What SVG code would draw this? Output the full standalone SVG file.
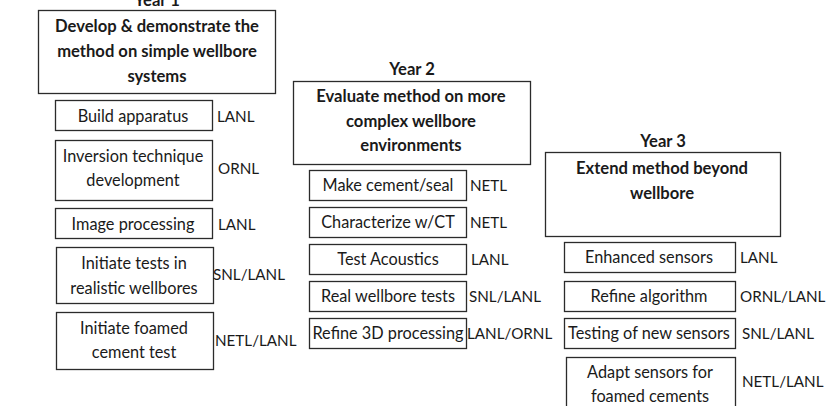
<svg xmlns="http://www.w3.org/2000/svg" width="839" height="406" viewBox="0 0 839 406">
  <style>
    text { font-family: Lato, "Open Sans", "Liberation Sans", sans-serif; font-size: 16.3px; fill: #1a1a1a; }
    .h { font-weight: bold; font-size: 16.6px; }
    .c { text-anchor: middle; }
    .lab { font-size: 15.2px; }
    rect { fill: #ffffff; stroke: #2b2b2b; stroke-width: 1.3; }
  </style>
  <rect x="0" y="0" width="839" height="406" style="stroke:none"/>

  <!-- Year 1 column -->
  <g id="year1">
    <text class="h c" x="157" y="6">Year 1</text>
    <g id="y1-goal">
      <rect x="38.5" y="10.5" width="237" height="83"/>
      <text class="h c" x="157" y="32">Develop &amp; demonstrate the</text>
      <text class="h c" x="157" y="57">method on simple wellbore</text>
      <text class="h c" x="157" y="82">systems</text>
    </g>
    <g id="y1-build">
      <rect x="55.5" y="100.5" width="157" height="30"/>
      <text class="c" x="133" y="122">Build apparatus</text>
      <text class="lab" x="217" y="122">LANL</text>
    </g>
    <g id="y1-inversion">
      <rect x="55.5" y="140.5" width="157" height="60"/>
      <text class="c" x="133" y="162">Inversion technique</text>
      <text class="c" x="133" y="186">development</text>
      <text class="lab" x="218" y="174">ORNL</text>
    </g>
    <g id="y1-image">
      <rect x="55.5" y="208.5" width="157" height="30"/>
      <text class="c" x="133" y="230">Image processing</text>
      <text class="lab" x="218" y="230">LANL</text>
    </g>
    <g id="y1-realistic">
      <rect x="56.5" y="247.5" width="157" height="56"/>
      <text class="c" x="134" y="269">Initiate tests in</text>
      <text class="c" x="134" y="294">realistic wellbores</text>
      <text class="lab" x="213" y="280">SNL/LANL</text>
    </g>
    <g id="y1-foamed">
      <rect x="56.5" y="312.5" width="157" height="57"/>
      <text class="c" x="134" y="334">Initiate foamed</text>
      <text class="c" x="134" y="358">cement test</text>
      <text class="lab" x="215" y="346">NETL/LANL</text>
    </g>
  </g>

  <!-- Year 2 column -->
  <g id="year2">
    <text class="h c" x="412" y="75">Year 2</text>
    <g id="y2-goal">
      <rect x="293.5" y="81.5" width="237" height="83"/>
      <text class="h c" x="411" y="102">Evaluate method on more</text>
      <text class="h c" x="411" y="127">complex wellbore</text>
      <text class="h c" x="411" y="151">environments</text>
    </g>
    <g id="y2-cement">
      <rect x="309.5" y="170.5" width="157" height="30"/>
      <text class="c" x="388" y="191">Make cement/seal</text>
      <text class="lab" x="470" y="191">NETL</text>
    </g>
    <g id="y2-ct">
      <rect x="309.5" y="207.5" width="157" height="30"/>
      <text class="c" x="388" y="228">Characterize w/CT</text>
      <text class="lab" x="470" y="228">NETL</text>
    </g>
    <g id="y2-acoustics">
      <rect x="309.5" y="244.5" width="157" height="30"/>
      <text class="c" x="388" y="265">Test Acoustics</text>
      <text class="lab" x="471" y="265">LANL</text>
    </g>
    <g id="y2-real">
      <rect x="309.5" y="281.5" width="157" height="30"/>
      <text class="c" x="388" y="302">Real wellbore tests</text>
      <text class="lab" x="469" y="302">SNL/LANL</text>
    </g>
    <g id="y2-refine3d">
      <rect x="309.5" y="318.5" width="157" height="30"/>
      <text class="c" x="388" y="339">Refine 3D processing</text>
      <text class="lab" x="467" y="339">LANL/ORNL</text>
    </g>
  </g>

  <!-- Year 3 column -->
  <g id="year3">
    <text class="h c" x="663" y="147">Year 3</text>
    <g id="y3-goal">
      <rect x="545.5" y="152.5" width="235" height="84"/>
      <text class="h c" x="662" y="174">Extend method beyond</text>
      <text class="h c" x="662" y="199">wellbore</text>
    </g>
    <g id="y3-sensors">
      <rect x="564.5" y="242.5" width="171" height="30"/>
      <text class="c" x="649" y="263">Enhanced sensors</text>
      <text class="lab" x="740" y="263">LANL</text>
    </g>
    <g id="y3-algorithm">
      <rect x="564.5" y="281.5" width="171" height="30"/>
      <text class="c" x="649" y="302">Refine algorithm</text>
      <text class="lab" x="740" y="302">ORNL/LANL</text>
    </g>
    <g id="y3-testing">
      <rect x="564.5" y="318.5" width="171" height="30"/>
      <text class="c" x="649" y="339">Testing of new sensors</text>
      <text class="lab" x="742" y="339">SNL/LANL</text>
    </g>
    <g id="y3-adapt">
      <rect x="566.5" y="357.5" width="169" height="56"/>
      <text class="c" x="650" y="378">Adapt sensors for</text>
      <text class="c" x="650" y="402">foamed cements</text>
      <text class="lab" x="742" y="387">NETL/LANL</text>
    </g>
  </g>
</svg>
